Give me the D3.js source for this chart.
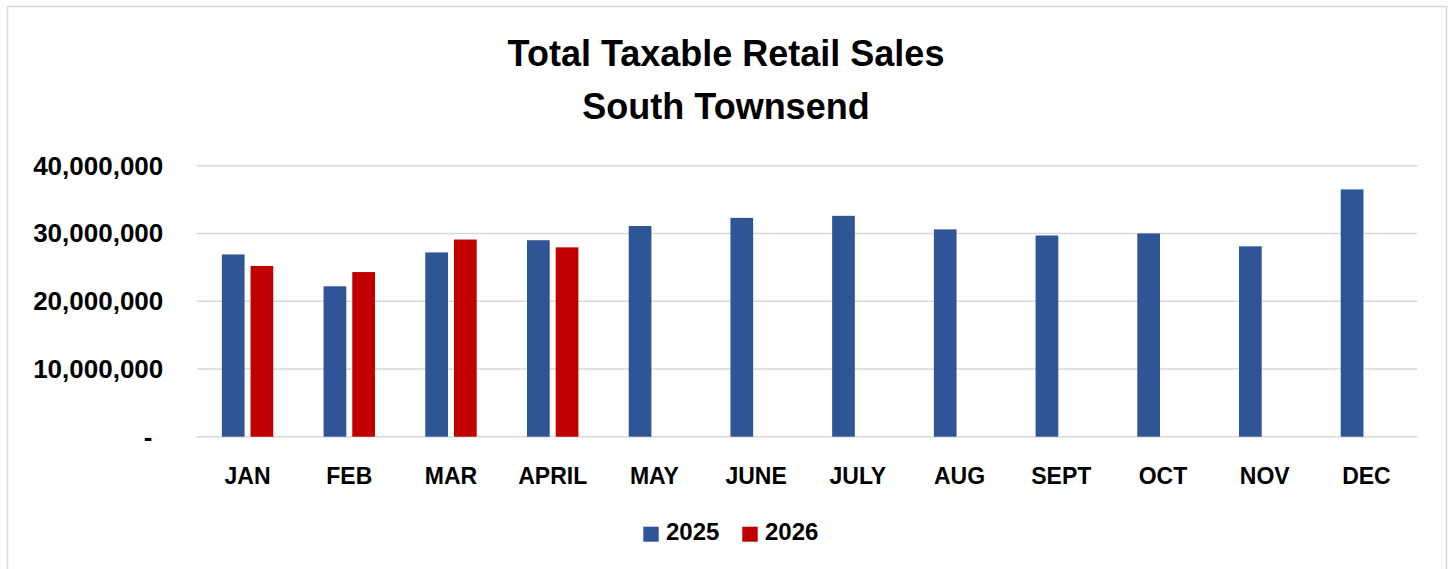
<!DOCTYPE html>
<html>
<head>
<meta charset="utf-8">
<script src="https://cdn.jsdelivr.net/npm/d3@7"></script>
<style>
  html, body { margin: 0; padding: 0; background: #ffffff; }
  svg { display: block; }
  text { font-family: "Liberation Sans", Arial, sans-serif; font-weight: bold; fill: #000; }
</style>
</head>
<body>
<svg id="chart" width="1450" height="569"></svg>
<script>
const titleLines = ["Total Taxable Retail Sales", "South Townsend"];
const months = ["JAN","FEB","MAR","APRIL","MAY","JUNE","JULY","AUG","SEPT","OCT","NOV","DEC"];
const seriesNames = ["2025", "2026"];
const sales2025 = [26900000, 22200000, 27200000, 29000000, 31100000, 32300000, 32600000, 30600000, 29700000, 30000000, 28100000, 36500000];
const sales2026 = [25200000, 24300000, 29100000, 27950000, null, null, null, null, null, null, null, null];
const yTicks = [0, 10000000, 20000000, 30000000, 40000000];
const colors = ["#2F5597", "#C00000"];

const svg = d3.select("#chart");

// outer border
svg.append("rect").attr("x", 7.5).attr("y", 6.5).attr("width", 1439).attr("height", 580)
  .attr("fill", "#fff").attr("stroke", "#d9d9d9").attr("stroke-width", 1.5);

const plot = { left: 196.7, right: 1417.3, top: 165.7, bottom: 436.7 };

const x0 = d3.scaleBand().domain(months).range([plot.left, plot.right])
  .paddingInner(0.4946).paddingOuter(0.4946 / 2);
const x1 = d3.scaleBand().domain(seriesNames).range([0, x0.bandwidth()]).paddingInner(0.209);
const y = d3.scaleLinear().domain([0, 40000000]).range([plot.bottom, plot.top]);

// gridlines
svg.append("g").selectAll("line").data(yTicks).join("line")
  .attr("x1", plot.left).attr("x2", plot.right)
  .attr("y1", d => y(d)).attr("y2", d => y(d))
  .attr("stroke", "#d9d9d9").attr("stroke-width", 1.5);

// y axis labels
const yAxis = d3.axisLeft(y).tickValues(yTicks).tickSize(0)
  .tickFormat(d => d === 0 ? "-" : d3.format(",")(d));
const gy = svg.append("g").attr("transform", "translate(163.3,0)").call(yAxis);
gy.select(".domain").remove();
gy.selectAll("text").attr("x", 0).attr("dx", d => d === 0 ? -11 : 0)
  .attr("font-size", 26).attr("font-family", "Liberation Sans, Arial, sans-serif")
  .attr("font-weight", "bold").attr("fill", "#000");

// bars
const rows = months.map((m, i) => ({ month: m, values: [sales2025[i], sales2026[i]] }));
const groups = svg.append("g").selectAll("g").data(rows).join("g")
  .attr("transform", d => `translate(${x0(d.month)},0)`);
groups.selectAll("rect")
  .data(d => seriesNames.map((s, j) => ({ s, v: d.values[j], j })).filter(e => e.v != null))
  .join("rect")
  .attr("x", d => x1(d.s))
  .attr("width", x1.bandwidth())
  .attr("y", d => y(d.v))
  .attr("height", d => y(0) - y(d.v))
  .attr("fill", d => colors[d.j]);

// x axis labels
const xAxis = d3.axisBottom(x0.copy().paddingInner(0).paddingOuter(0)).tickSize(0);
const gx = svg.append("g").attr("transform", `translate(0,${plot.bottom})`).call(xAxis);
gx.select(".domain").remove();
gx.selectAll("text").attr("y", 0).attr("dy", 0).attr("transform", "translate(0,47)")
  .attr("font-size", 23).attr("font-family", "Liberation Sans, Arial, sans-serif")
  .attr("font-weight", "bold").attr("fill", "#000");

// title
svg.append("g").selectAll("text").data(titleLines).join("text")
  .attr("x", 726).attr("y", (d, i) => 66 + i * 53.3)
  .attr("text-anchor", "middle").attr("font-size", 36).text(d => d);

// legend
const legendX = [643.3, 742.3];
const leg = svg.append("g").selectAll("g").data(seriesNames).join("g")
  .attr("transform", (d, i) => `translate(${legendX[i]},526.7)`);
leg.append("rect").attr("width", 15.4).attr("height", 15).attr("fill", (d, i) => colors[i]);
leg.append("text").attr("x", 22.7).attr("y", 13.3).attr("font-size", 24).text(d => d);
</script>
</body>
</html>
